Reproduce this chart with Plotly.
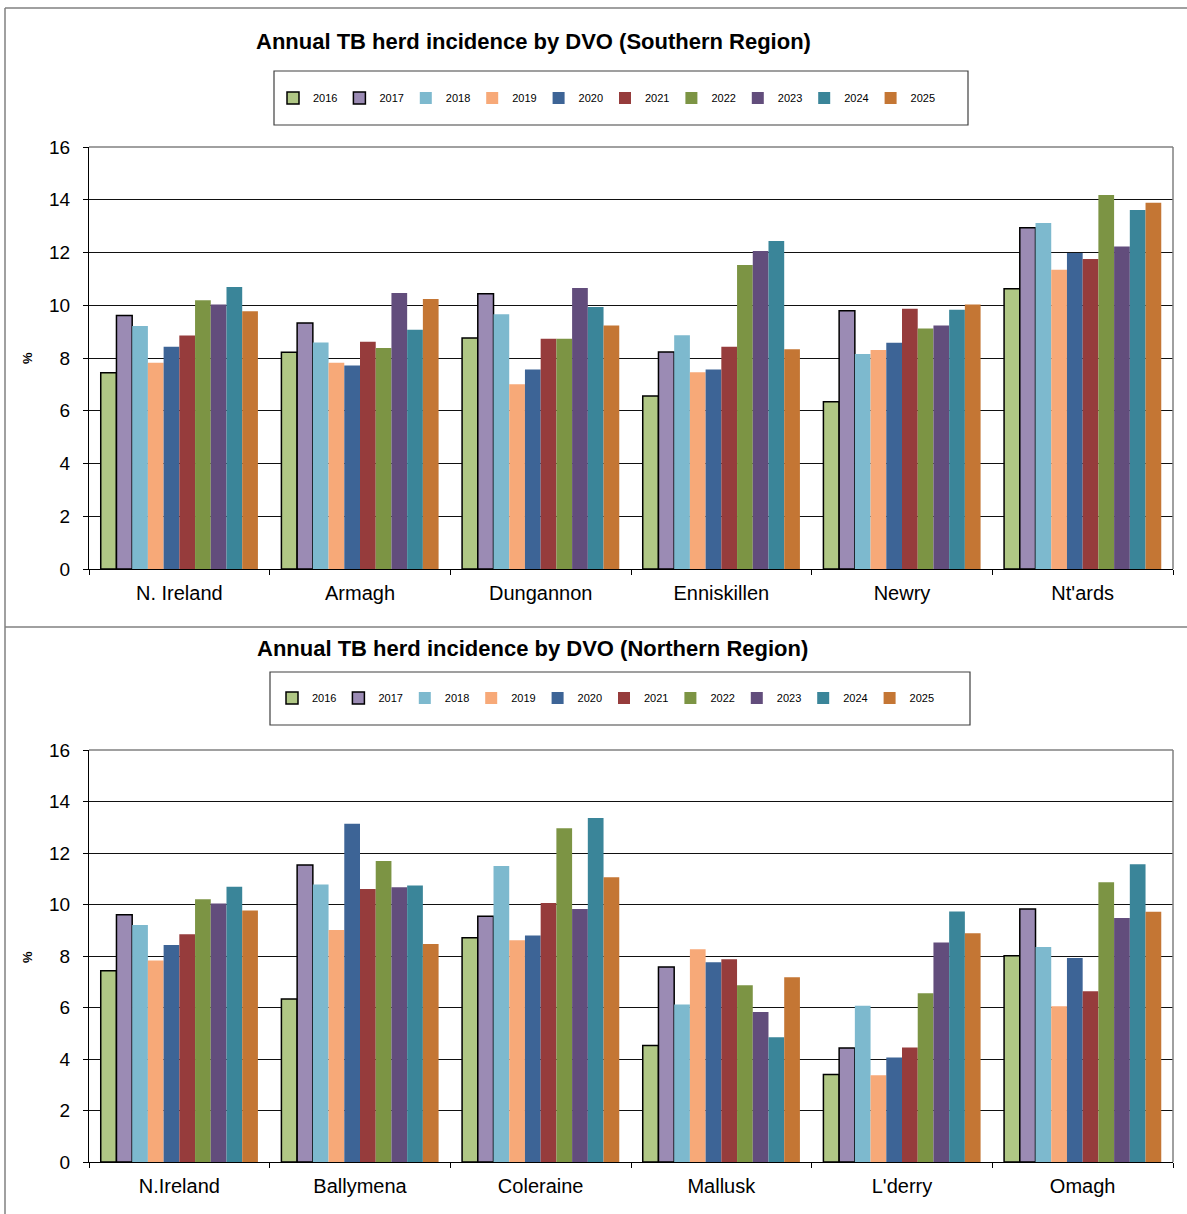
import plotly.graph_objects as go

W, H = 1187, 1214

years = ["2016", "2017", "2018", "2019", "2020", "2021", "2022", "2023", "2024", "2025"]
colors = ["#B0C785", "#9B8BB4", "#7DB9CE", "#F7A978", "#3D6496",
          "#963C3C", "#7C9444", "#624D7C", "#3A8599", "#C47634"]

south_categories = ["N. Ireland", "Armagh", "Dungannon", "Enniskillen", "Newry", "Nt'ards"]
north_categories = ["N.Ireland", "Ballymena", "Coleraine", "Mallusk", "L'derry", "Omagh"]

# values per year, in category order
south_2016 = [7.44, 8.22, 8.76, 6.56, 6.34, 10.63]
south_2017 = [9.61, 9.33, 10.44, 8.23, 9.79, 12.94]
south_2018 = [9.21, 8.59, 9.66, 8.86, 8.15, 13.12]
south_2019 = [7.82, 7.82, 7.00, 7.46, 8.30, 11.35]
south_2020 = [8.43, 7.72, 7.56, 7.56, 8.58, 11.98]
south_2021 = [8.85, 8.62, 8.73, 8.43, 9.87, 11.75]
south_2022 = [10.19, 8.38, 8.73, 11.53, 9.12, 14.18]
south_2023 = [10.03, 10.46, 10.65, 12.06, 9.23, 12.23]
south_2024 = [10.69, 9.07, 9.93, 12.44, 9.83, 13.61]
south_2025 = [9.77, 10.24, 9.23, 8.33, 10.03, 13.89]

north_2016 = [7.43, 6.33, 8.71, 4.52, 3.40, 8.01]
north_2017 = [9.60, 11.53, 9.54, 7.57, 4.43, 9.83]
north_2018 = [9.20, 10.78, 11.50, 6.12, 6.07, 8.35]
north_2019 = [7.83, 9.01, 8.61, 8.26, 3.37, 6.05]
north_2020 = [8.43, 13.14, 8.80, 7.76, 4.06, 7.92]
north_2021 = [8.84, 10.60, 10.06, 7.87, 4.45, 6.63]
north_2022 = [10.20, 11.69, 12.96, 6.86, 6.55, 10.86]
north_2023 = [10.04, 10.67, 9.83, 5.83, 8.52, 9.48]
north_2024 = [10.69, 10.74, 13.36, 4.84, 9.73, 11.56]
north_2025 = [9.77, 8.47, 11.06, 7.17, 8.88, 9.72]

south = [south_2016, south_2017, south_2018, south_2019, south_2020,
         south_2021, south_2022, south_2023, south_2024, south_2025]
north = [north_2016, north_2017, north_2018, north_2019, north_2020,
         north_2021, north_2022, north_2023, north_2024, north_2025]

y_ticks = [0, 2, 4, 6, 8, 10, 12, 14, 16]

titles = ["Annual TB herd incidence by DVO (Southern Region)",
          "Annual TB herd incidence by DVO (Northern Region)"]


def px(x):
    return x / W


def py(y):
    return 1 - y / H


FONT = "Liberation Sans, Arial, sans-serif"

fig = go.Figure()

for i, yr in enumerate(years):
    lw = 1.5 if i < 2 else 0
    fig.add_trace(go.Bar(
        x=south_categories, y=south[i], name=yr,
        marker=dict(color=colors[i], line=dict(color="#000000", width=lw)),
        xaxis="x", yaxis="y", legend="legend", offsetgroup=yr,
    ))
for i, yr in enumerate(years):
    lw = 1.5 if i < 2 else 0
    fig.add_trace(go.Bar(
        x=north_categories, y=north[i], name=yr,
        marker=dict(color=colors[i], line=dict(color="#000000", width=lw)),
        xaxis="x2", yaxis="y2", legend="legend2", offsetgroup=yr,
    ))

xdom = [px(89), px(1173)]
top_dom = [py(569), py(147)]
bot_dom = [py(1162), py(750)]

xaxis_common = dict(
    type="category", showline=True, linecolor="#000000", linewidth=1,
    ticks="outside", ticklen=5, tickcolor="#000000", tickson="boundaries",
    tickfont=dict(family=FONT, size=20, color="#000000"),
    showgrid=False, zeroline=False, domain=xdom, ticklabelstandoff=6,
)
yaxis_common = dict(
    range=[0, 16], tickvals=y_ticks, showline=True, linecolor="#000000", linewidth=1,
    ticks="outside", ticklen=5, tickcolor="#000000",
    tickfont=dict(family=FONT, size=19, color="#000000"),
    showgrid=True, gridcolor="#111111", gridwidth=1, zeroline=False,
    ticklabelstandoff=9,
)

legend_common = dict(
    orientation="h", xanchor="center", yanchor="middle",
    bgcolor="rgba(0,0,0,0)", borderwidth=0,
    font=dict(family=FONT, size=11, color="#000000"),
    itemwidth=30, entrywidth=21.4, entrywidthmode="pixels",
    traceorder="normal", itemclick=False,
)

fig.update_layout(
    width=W, height=H,
    margin=dict(l=0, r=0, t=0, b=0, autoexpand=False),
    paper_bgcolor="#FFFFFF", plot_bgcolor="#FFFFFF",
    barmode="group", bargap=0.13, bargroupgap=0,
    xaxis=dict(**xaxis_common, anchor="y"),
    yaxis=dict(**yaxis_common, domain=top_dom, anchor="x"),
    xaxis2=dict(**xaxis_common, anchor="y2"),
    yaxis2=dict(**yaxis_common, domain=bot_dom, anchor="x2"),
    legend=dict(**legend_common, x=px(605), y=py(98)),
    legend2=dict(**legend_common, x=px(604), y=py(698)),
    showlegend=True,
)

annotations = [
    dict(text="<b>" + titles[0] + "</b>", x=px(533), y=py(42), xref="paper", yref="paper",
         showarrow=False, font=dict(family=FONT, size=22, color="#000000"),
         xanchor="center", yanchor="middle"),
    dict(text="<b>" + titles[1] + "</b>", x=px(532), y=py(648), xref="paper", yref="paper",
         showarrow=False, font=dict(family=FONT, size=22, color="#000000"),
         xanchor="center", yanchor="middle"),
    dict(text="<b>%</b>", x=px(27), y=py(358), xref="paper", yref="paper", textangle=-90,
         showarrow=False, font=dict(family=FONT, size=13, color="#000000"),
         xanchor="center", yanchor="middle"),
    dict(text="<b>%</b>", x=px(27), y=py(957), xref="paper", yref="paper", textangle=-90,
         showarrow=False, font=dict(family=FONT, size=13, color="#000000"),
         xanchor="center", yanchor="middle"),
]
fig.update_layout(annotations=annotations)

shapes = [
    # outer frames
    dict(type="line", xref="paper", yref="paper", x0=px(5), x1=px(5), y0=py(8), y1=py(1214),
         line=dict(color="#808080", width=1.5)),
    dict(type="line", xref="paper", yref="paper", x0=px(5), x1=1, y0=py(8), y1=py(8),
         line=dict(color="#808080", width=1.5)),
    dict(type="line", xref="paper", yref="paper", x0=px(5), x1=1, y0=py(627), y1=py(627),
         line=dict(color="#808080", width=1.5)),
    # legend boxes
    dict(type="rect", xref="paper", yref="paper", x0=px(274), x1=px(968), y0=py(125), y1=py(71),
         line=dict(color="#404040", width=1.2)),
    dict(type="rect", xref="paper", yref="paper", x0=px(270), x1=px(970), y0=py(725), y1=py(672),
         line=dict(color="#404040", width=1.2)),
    # plot area top/right borders
    dict(type="line", xref="paper", yref="paper", x0=xdom[0], x1=xdom[1], y0=top_dom[1], y1=top_dom[1],
         line=dict(color="#808080", width=1.5)),
    dict(type="line", xref="paper", yref="paper", x0=xdom[1], x1=xdom[1], y0=top_dom[0], y1=top_dom[1],
         line=dict(color="#808080", width=1.5)),
    dict(type="line", xref="paper", yref="paper", x0=xdom[0], x1=xdom[1], y0=bot_dom[1], y1=bot_dom[1],
         line=dict(color="#808080", width=1.5)),
    dict(type="line", xref="paper", yref="paper", x0=xdom[1], x1=xdom[1], y0=bot_dom[0], y1=bot_dom[1],
         line=dict(color="#808080", width=1.5)),
]
fig.update_layout(shapes=shapes)

fig.write_html("out.html",
               config={"displayModeBar": False},
               post_script="document.body.style.margin='0px';document.body.style.overflow='hidden';")
